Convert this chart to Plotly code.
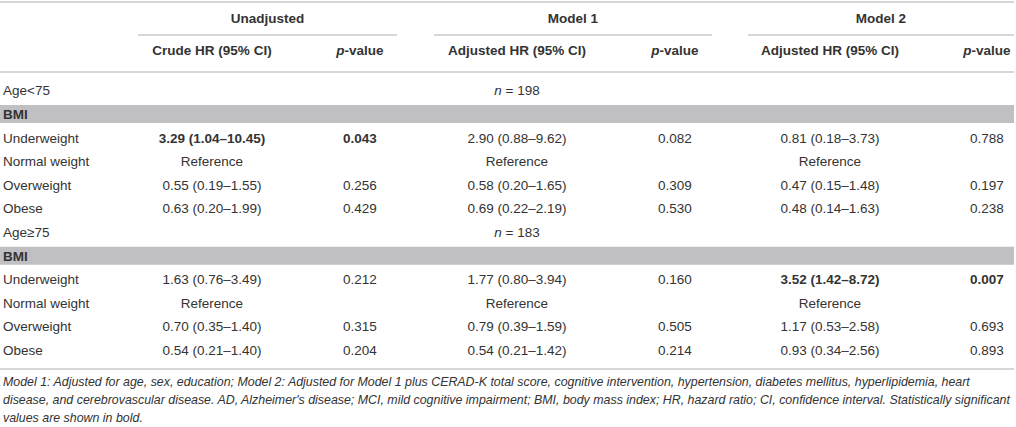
import plotly.graph_objects as go

# table content
models = ["Unadjusted", "Model 1", "Model 2"]
hr_headers = ["Crude HR (95% CI)", "Adjusted HR (95% CI)", "Adjusted HR (95% CI)"]
age_groups = ["Age<75", "Age≥75"]
group_n = [198, 183]
bmi_categories = ["Underweight", "Normal weight", "Overweight", "Obese"]

crude_hr_lt75 = ["3.29 (1.04–10.45)", "Reference", "0.55 (0.19–1.55)", "0.63 (0.20–1.99)"]
crude_p_lt75 = ["0.043", "", "0.256", "0.429"]
m1_hr_lt75 = ["2.90 (0.88–9.62)", "Reference", "0.58 (0.20–1.65)", "0.69 (0.22–2.19)"]
m1_p_lt75 = ["0.082", "", "0.309", "0.530"]
m2_hr_lt75 = ["0.81 (0.18–3.73)", "Reference", "0.47 (0.15–1.48)", "0.48 (0.14–1.63)"]
m2_p_lt75 = ["0.788", "", "0.197", "0.238"]

crude_hr_ge75 = ["1.63 (0.76–3.49)", "Reference", "0.70 (0.35–1.40)", "0.54 (0.21–1.40)"]
crude_p_ge75 = ["0.212", "", "0.315", "0.204"]
m1_hr_ge75 = ["1.77 (0.80–3.94)", "Reference", "0.79 (0.39–1.59)", "0.54 (0.21–1.42)"]
m1_p_ge75 = ["0.160", "", "0.505", "0.214"]
m2_hr_ge75 = ["3.52 (1.42–8.72)", "Reference", "1.17 (0.53–2.58)", "0.93 (0.34–2.56)"]
m2_p_ge75 = ["0.007", "", "0.693", "0.893"]

footnote = [
    "Model 1: Adjusted for age, sex, education; Model 2: Adjusted for Model 1 plus CERAD-K total score, cognitive intervention, hypertension, diabetes mellitus, hyperlipidemia, heart",
    "disease, and cerebrovascular disease. AD, Alzheimer's disease; MCI, mild cognitive impairment; BMI, body mass index; HR, hazard ratio; CI, confidence interval. Statistically significant",
    "values are shown in bold.",
]

# layout geometry (pixels)
W, H = 1016, 427
TEXT = "#333333"
RULE = "#c8c8c8"
BAND = "#c0c0c2"
FONT = "Liberation Sans"
SIZE = 13.5
hr_x = [212, 517, 830]
p_x = [360, 675, 987]
group_spans = [(138, 397), (434, 712), (748, 1014)]
row_y0, row_step = 92, 23.6


def bold_if_sig(values, pvals):
    out = []
    for v, p in zip(values, pvals):
        sig = p != "" and float(p) < 0.05
        out.append("<b>%s</b>" % v if sig else v)
    return out


# assemble rows: group row, BMI band row, then categories
labels, ys, band_ys, group_ys = [], [], [], []
columns = [[] for _ in range(6)]
blocks = [
    [crude_hr_lt75, crude_p_lt75, m1_hr_lt75, m1_p_lt75, m2_hr_lt75, m2_p_lt75],
    [crude_hr_ge75, crude_p_ge75, m1_hr_ge75, m1_p_ge75, m2_hr_ge75, m2_p_ge75],
]
i = 0
for g, block in enumerate(blocks):
    group_ys.append(row_y0 + i * row_step)
    labels.append(age_groups[g])
    ys.append(row_y0 + i * row_step)
    i += 1
    band_ys.append(row_y0 + i * row_step)
    labels.append("<b>BMI</b>")
    ys.append(row_y0 + i * row_step)
    i += 1
    for k, cat in enumerate(bmi_categories):
        labels.append(cat)
        ys.append(row_y0 + i * row_step)
        for c in range(3):
            hr = bold_if_sig(block[2 * c], block[2 * c + 1])
            p = bold_if_sig(block[2 * c + 1], block[2 * c + 1])
            columns[2 * c].append((row_y0 + i * row_step, hr[k]))
            columns[2 * c + 1].append((row_y0 + i * row_step, p[k]))
        i += 1

fig = go.Figure()

font = dict(family=FONT, size=SIZE, color=TEXT)

# row labels
fig.add_trace(go.Scatter(x=[3] * len(labels), y=ys, text=labels, mode="text",
                         textposition="middle right", textfont=font,
                         hoverinfo="skip", showlegend=False))

# value columns
for c in range(6):
    cx = hr_x[c // 2] if c % 2 == 0 else p_x[c // 2]
    fig.add_trace(go.Scatter(x=[cx] * len(columns[c]),
                             y=[v[0] for v in columns[c]],
                             text=[v[1] for v in columns[c]],
                             mode="text", textposition="middle center",
                             textfont=font, hoverinfo="skip", showlegend=False))

# n = ... per age group, centred on model 1 HR column
fig.add_trace(go.Scatter(x=[hr_x[1]] * 2, y=group_ys,
                         text=["<i>n</i> = %d" % n for n in group_n],
                         mode="text", textposition="middle center", textfont=font,
                         hoverinfo="skip", showlegend=False))

# headers
fig.add_trace(go.Scatter(x=[(a + b) / 2 for a, b in group_spans], y=[20] * 3,
                         text=["<b>%s</b>" % m for m in models], mode="text",
                         textposition="middle center", textfont=font,
                         hoverinfo="skip", showlegend=False))
fig.add_trace(go.Scatter(x=hr_x + p_x, y=[52] * 6,
                         text=["<b>%s</b>" % h for h in hr_headers] + ["<b><i>p</i>-value</b>"] * 3,
                         mode="text", textposition="middle center", textfont=font,
                         hoverinfo="skip", showlegend=False))

shapes = []
for y in [2, 72, 369]:
    shapes.append(dict(type="line", x0=0, x1=1014, y0=y, y1=y,
                       line=dict(color=RULE, width=1.5)))
for a, b in group_spans:
    shapes.append(dict(type="line", x0=a, x1=b, y0=35, y1=35,
                       line=dict(color=RULE, width=1.5)))
for y in band_ys:
    shapes.append(dict(type="rect", x0=0, x1=1014, y0=y - 10.5, y1=y + 7.5,
                       fillcolor=BAND, line=dict(width=0), layer="below"))

annotations = []
for k, line in enumerate(footnote):
    annotations.append(dict(x=1, y=382 + k * 18, xref="x", yref="y", text="<i>%s</i>" % line,
                            showarrow=False, xanchor="left", yanchor="middle",
                            font=dict(family=FONT, size=12.4, color=TEXT)))

fig.update_layout(
    width=W, height=H,
    margin=dict(l=0, r=0, t=0, b=0),
    paper_bgcolor="white", plot_bgcolor="white",
    shapes=shapes, annotations=annotations,
    xaxis=dict(range=[0, W], visible=False, fixedrange=True),
    yaxis=dict(range=[H, 0], visible=False, fixedrange=True),
)

# the page body has a default 8px margin; drop it so the figure fills the window
fig.write_html("out.html",
               config={"displayModeBar": False},
               post_script="document.body.style.margin='0px';document.body.style.overflow='hidden';")
